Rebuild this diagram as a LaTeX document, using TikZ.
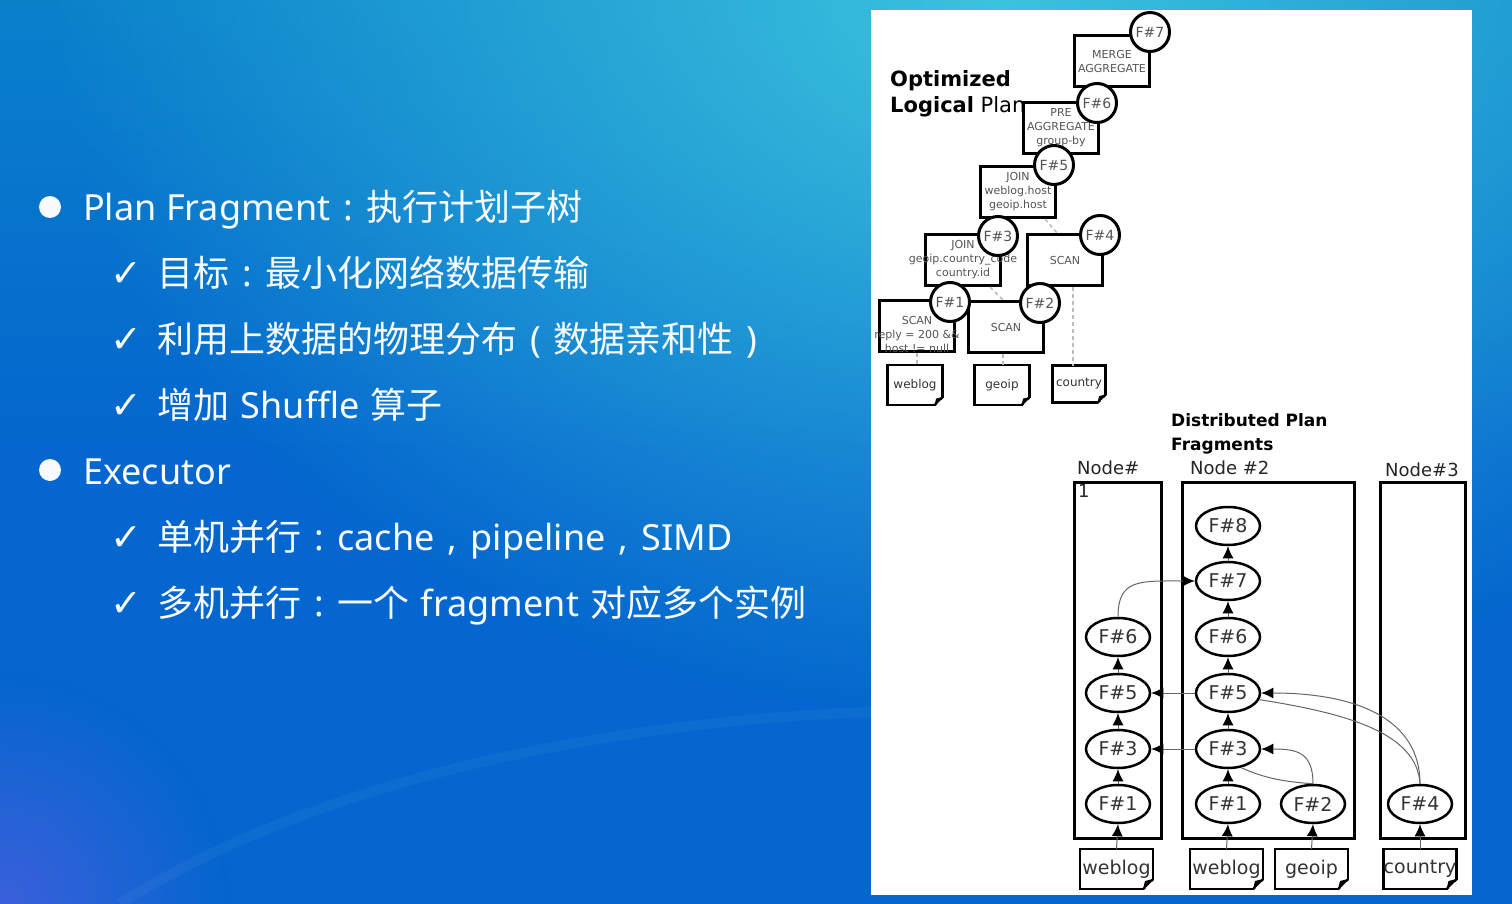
\documentclass[tikz,border=0pt]{standalone}
\usepackage{fontspec}
\setmainfont{DejaVu Sans}
\newfontfamily\slidelat{Noto Sans}
\newfontfamily\slidecjk{Noto Sans CJK SC}
\usetikzlibrary{shapes.geometric, arrows.meta, positioning, calc, fadings}

\definecolor{slideTop}{HTML}{0A80CB}
\definecolor{slideBlue}{HTML}{0466CE}
\definecolor{slideCyan}{HTML}{3CC3DE}
\definecolor{slideViolet}{HTML}{4A5EE0}
\definecolor{slideText}{HTML}{F7FBFF}
\definecolor{planInk}{HTML}{555555}
\definecolor{fragInk}{HTML}{333333}
\definecolor{dashGray}{HTML}{BBBBBB}
\definecolor{flowGray}{HTML}{666666}

\tikzfading[name=glow, inner color=transparent!0, outer color=transparent!100]

% centred full-width punctuation
\newcommand{\fwp}[1]{{\slidelat\makebox[1em]{#1}}}

% folded corner of a table sheet
\newcommand{\pagefold}[2]{%
  \fill[white] ($(#1.south east)+(-#2,2)$) -- ($(#1.south east)+(2,2)$) -- ($(#1.south east)+(2,-#2)$) -- cycle;
  \draw[line width=2pt] ($(#1.south east)+(-#2,0)$) -- ($(#1.south east)+(0,-#2)$);
  \fill ($(#1.south east)+(-#2,0)$) -- ($(#1.south east)+(0,-#2)$) -- ($(#1.south east)+(-0.8*#2,-0.8*#2)$) -- cycle;
}

\begin{document}
\begin{tikzpicture}[
  x=1pt, y=-1pt,
  slidetxt/.style={text=slideText, inner sep=0pt, font=\fontsize{36}{40}\selectfont},
  tick/.style={text=slideText, inner sep=0pt, font=\fontsize{38}{40}\selectfont},
  dot/.style={circle, fill=slideText, minimum size=22pt, inner sep=0pt},
  opbox/.style={draw, line width=3pt, fill=white, minimum width=75pt, minimum height=51pt,
    inner sep=0pt, align=center, text=planInk, font=\fontsize{11}{14}\selectfont},
  fcirc/.style={circle, draw, line width=3pt, fill=white, minimum size=39pt, inner sep=0pt,
    text=planInk, font=\fontsize{14}{14}\selectfont},
  srcdoc/.style={draw, line width=2.5pt, fill=white, outer sep=0pt, inner sep=0pt, text=fragInk},
  smalldoc/.style={srcdoc, minimum width=55pt, minimum height=40pt, font=\fontsize{12}{12}\selectfont},
  bigdoc/.style={srcdoc, minimum width=73pt, minimum height=40pt, font=\fontsize{19}{19}\selectfont},
  plandash/.style={draw=dashGray, line width=1.5pt, dash pattern=on 4pt off 3pt},
  hostbox/.style={draw, line width=3pt, minimum height=356pt, inner sep=0pt},
  hostlbl/.style={inner sep=0pt, text=black!85, font=\fontsize{18}{18}\selectfont},
  frag/.style={ellipse, draw, line width=2.5pt, fill=white, minimum width=64pt, minimum height=38pt,
    inner sep=0pt, text=fragInk, font=\fontsize{19}{19}\selectfont},
  flow/.style={draw=flowGray, line width=1pt, -{Latex[color=black, length=12pt, width=11pt]}},
  plain/.style={draw=flowGray, line width=1pt}
]
  \useasboundingbox (0,0) rectangle (1512,904);
  % slide background
  \begin{scope}
    \clip (0,0) rectangle (1512,904);
    \shade[top color=slideTop, bottom color=slideBlue, middle color=slideBlue] (0,0) rectangle (1512,904);
    \fill[slideCyan, path fading=glow] (1000,0) ellipse [x radius=950pt, y radius=720pt];
    \fill[slideViolet, path fading=glow, opacity=0.8] (0,904) circle [radius=230pt];
    \draw[white, opacity=0.04, line width=10pt] (120,904) .. controls (330,770) and (640,720) .. (871,712);
  \end{scope}
  \fill[white] (871,10) rectangle (1472,895);

  % bullet list
  \node[dot] (bulplan) at (50,207) {};
  \node[slidetxt, anchor=base west] (txtplan) at (83,220) {{\slidelat Plan Fragment}\fwp{:}{\slidecjk 执行计划子树}};
  \node[tick, anchor=base west] (tkgoal) at (110,286) {✓};
  \node[slidetxt, base right=15pt of tkgoal] (txtgoal) {{\slidecjk 目标}\fwp{:}{\slidecjk 最小化网络数据传输}};
  \node[tick, anchor=base west] (tkdist) at (110,352) {✓};
  \node[slidetxt, base right=15pt of tkdist] (txtdist) {{\slidecjk 利用上数据的物理分布}\fwp{(}{\slidecjk 数据亲和性}\fwp{)}};
  \node[tick, anchor=base west] (tkshuf) at (110,418) {✓};
  \node[slidetxt, base right=15pt of tkshuf] (txtshuf) {{\slidecjk 增加} {\slidelat Shuffle} {\slidecjk 算子}};
  \node[dot] (bulexec) at (50,470) {};
  \node[slidetxt, anchor=base west] (txtexec) at (83,484) {\slidelat Executor};
  \node[tick, anchor=base west] (tksingle) at (110,550) {✓};
  \node[slidetxt, base right=15pt of tksingle] (txtsingle) {{\slidecjk 单机并行}\fwp{:}{\slidelat cache}\fwp{,}{\slidelat pipeline}\fwp{,}{\slidelat SIMD}};
  \node[tick, anchor=base west] (tkmulti) at (110,616) {✓};
  \node[slidetxt, base right=15pt of tkmulti] (txtmulti) {{\slidecjk 多机并行}\fwp{:}{\slidecjk 一个} {\slidelat fragment} {\slidecjk 对应多个实例}};

  % optimized logical plan
  \node[anchor=north west, inner sep=0pt, align=left, font=\fontsize{21}{26}\selectfont] (opttitle) at (890,70)
    {\textbf{Optimized}\\\textbf{Logical} Plan};
  \node[opbox] (mergeagg) at (1112,61) {MERGE\\AGGREGATE};
  \node[opbox] (preagg) at (1061,128) {PRE\\AGGREGATE\\group-by};
  \node[opbox] (joinhost) at (1018,192) {JOIN\\weblog.host\\geoip.host};
  \node[opbox] (joincountry) at (963,260) {JOIN\\\makebox[0pt]{geoip.country\_code}\\country.id};
  \node[opbox] (scancountry) at (1065,260) {SCAN};
  \node[opbox] (scanweblog) at (917,326) {};
  \node[inner sep=0pt, align=center, text=planInk, font=\fontsize{11}{14}\selectfont] (scanweblogtxt) at (917,334)
    {SCAN\\reply = 200 \&\&\\host != null};
  \node[opbox] (scangeoip) at (1006,327) {SCAN};
  \node[fcirc] (f7) at (1150,32) {F\#7};
  \node[fcirc] (f6) at (1097,103) {F\#6};
  \node[fcirc] (f5) at (1054,165) {F\#5};
  \node[fcirc] (f3) at (998,236) {F\#3};
  \node[fcirc] (f4) at (1100,235) {F\#4};
  \node[fcirc] (f1) at (950,302) {F\#1};
  \node[fcirc] (f2) at (1040,303) {F\#2};
  \node[smalldoc] (tblweblog) at (915,385) {weblog};
  \node[smalldoc] (tblgeoip) at (1002,385) {geoip};
  \node[smalldoc, minimum width=53pt, minimum height=37pt] (tblcountry) at (1079,384) {country};
  \pagefold{tblweblog}{8}
  \pagefold{tblgeoip}{8}
  \pagefold{tblcountry}{8}
  \draw[plandash] ([xshift=27pt]joinhost.south) -- ([xshift=-8pt]scancountry.north);
  \draw[plandash] ([xshift=27pt]joincountry.south) -- ([xshift=-3pt]scangeoip.north);
  \draw[plandash] ([xshift=8pt]scancountry.south) -- ([xshift=8pt]scancountry.south |- tblcountry.north);
  \draw[plandash] (scanweblog.south) -- (scanweblog.south |- tblweblog.north);
  \draw[plandash] ([xshift=-3pt]scangeoip.south) -- ([xshift=-3pt]scangeoip.south |- tblgeoip.north);

  % distributed plan fragments
  \node[anchor=north west, inner sep=0pt, align=left, font=\bfseries\fontsize{17}{24}\selectfont] (disttitle) at (1171,413)
    {Distributed Plan\\Fragments};
  \node[hostbox, minimum width=87pt] (hostone) at (1117.5,660) {};
  \node[hostbox, minimum width=172pt] (hosttwo) at (1268,660) {};
  \node[hostbox, minimum width=85pt] (hostthree) at (1422.5,660) {};
  \node[hostlbl, anchor=base west] (lblone) at (1077,474) {Node\#};
  \node[hostlbl, anchor=base west] (lblonenum) at (1078,497) {1};
  \node[hostlbl, anchor=base west] (lbltwo) at (1190,474) {Node \#2};
  \node[hostlbl, anchor=base west] (lblthree) at (1385,476) {Node\#3};

  \node[frag] (a6) at (1118,637) {F\#6};
  \node[frag] (a5) at (1118,693) {F\#5};
  \node[frag] (a3) at (1118,749) {F\#3};
  \node[frag] (a1) at (1118,804) {F\#1};
  \node[frag] (b8) at (1228,526) {F\#8};
  \node[frag] (b7) at (1228,581) {F\#7};
  \node[frag] (b6) at (1228,637) {F\#6};
  \node[frag] (b5) at (1228,693) {F\#5};
  \node[frag] (b3) at (1228,749) {F\#3};
  \node[frag] (b1) at (1228,804) {F\#1};
  \node[frag] (b2) at (1313,804) {F\#2};
  \node[frag] (c4) at (1420,804) {F\#4};

  \node[bigdoc] (docweblogA) at (1116.5,869) {weblog};
  \node[bigdoc] (docweblogB) at (1226.5,869) {weblog};
  \node[bigdoc] (docgeoipB) at (1311.5,869) {geoip};
  \node[bigdoc] (doccountryC) at (1420,869) {country};
  \foreach \d in {docweblogA, docweblogB, docgeoipB, doccountryC}
    \pagefold{\d}{10};

  \foreach \lo/\hi in {a1/a3, a3/a5, a5/a6, b1/b3, b3/b5, b5/b6, b6/b7, b7/b8,
    docweblogA/a1, docweblogB/b1, docgeoipB/b2, doccountryC/c4}
    \draw[flow] (\lo.north) -- (\hi.south);
  \draw[flow] (b5.west) -- (a5.east);
  \draw[flow] (b3.west) -- (a3.east);
  \draw[flow] (a6.north) .. controls +(0,-38) and +(-55,0) .. (b7.west);
  \draw[flow] (b2.north) .. controls +(0,-32) and +(35,0) .. (b3.east);
  \draw[plain] (b2.north) .. controls +(-30,-2) and +(22,10) .. (b3.-55);
  \draw[flow] (c4.north) .. controls +(0,-65) and +(95,0) .. (b5.east);
  \draw[plain] (c4.north) .. controls +(-3,-50) and +(90,14) .. (b5.-12);
\end{tikzpicture}
\end{document}
